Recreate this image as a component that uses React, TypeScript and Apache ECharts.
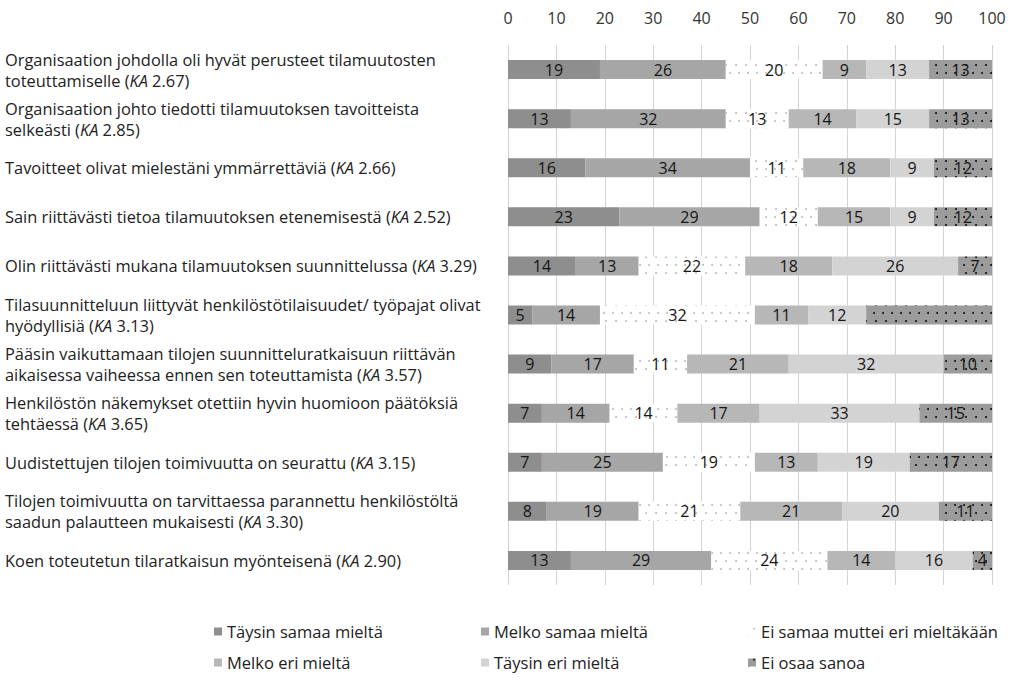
import React, { useEffect, useRef } from "react";
import * as echarts from "echarts";

const categories: string[] = [
  "Organisaation johdolla oli hyvät perusteet tilamuutosten\ntoteuttamiselle",
  "Organisaation johto tiedotti tilamuutoksen tavoitteista\nselkeästi",
  "Tavoitteet olivat mielestäni ymmärrettäviä",
  "Sain riittävästi tietoa tilamuutoksen etenemisestä",
  "Olin riittävästi mukana tilamuutoksen suunnittelussa",
  "Tilasuunnitteluun liittyvät henkilöstötilaisuudet/ työpajat olivat\nhyödyllisiä",
  "Pääsin vaikuttamaan tilojen suunnitteluratkaisuun riittävän\naikaisessa vaiheessa ennen sen toteuttamista",
  "Henkilöstön näkemykset otettiin hyvin huomioon päätöksiä\ntehtäessä",
  "Uudistettujen tilojen toimivuutta on seurattu",
  "Tilojen toimivuutta on tarvittaessa parannettu henkilöstöltä\nsaadun palautteen mukaisesti",
  "Koen toteutetun tilaratkaisun myönteisenä",
];
const kaValues: string[] = ["2.67", "2.85", "2.66", "2.52", "3.29", "3.13", "3.57", "3.65", "3.15", "3.30", "2.90"];

const seriesNames: string[] = [
  "Täysin samaa mieltä",
  "Melko samaa mieltä",
  "Ei samaa muttei eri mieltäkään",
  "Melko eri mieltä",
  "Täysin eri mieltä",
  "Ei osaa sanoa",
];

const taysinSamaa: number[] = [19, 13, 16, 23, 14, 5, 9, 7, 7, 8, 13];
const melkoSamaa: number[] = [26, 32, 34, 29, 13, 14, 17, 14, 25, 19, 29];
const eiSamaaEiEri: number[] = [20, 13, 11, 12, 22, 32, 11, 14, 19, 21, 24];
const melkoEri: number[] = [9, 14, 18, 15, 18, 11, 21, 17, 13, 21, 14];
const taysinEri: number[] = [13, 15, 9, 9, 26, 12, 32, 33, 19, 20, 16];
const eiOsaa: number[] = [13, 13, 12, 12, 7, 26, 10, 15, 17, 11, 4];
// index of a segment whose value label is not printed in the original
const hiddenLabelRow = 5;

const FONT = "'Open Sans', 'Noto Sans', sans-serif";

export default function App() {
  const ref = useRef<HTMLDivElement>(null);
  useEffect(() => {
    if (!ref.current) return;
    const chart = echarts.init(ref.current, undefined, { renderer: "svg" });

    const values = [taysinSamaa, melkoSamaa, eiSamaaEiEri, melkoEri, taysinEri, eiOsaa];
    const colors = ["#8e8e8e", "#a6a6a6", "#ffffff", "#b7b7b7", "#d3d3d3", "#9c9c9c"];
    const decals: any[] = [
      null,
      null,
      {
        symbol: "circle",
        symbolSize: 1,
        dashArrayX: [[2, 7], [0, 4.5, 2, 2.5]],
        dashArrayY: [2, 6],
        color: "#bdbdbd",
        backgroundColor: "#ffffff",
      },
      null,
      null,
      {
        symbol: "circle",
        symbolSize: 1,
        dashArrayX: [[2, 7], [0, 4.5, 2, 2.5]],
        dashArrayY: [2, 6],
        color: "#111111",
        backgroundColor: "#9c9c9c",
      },
    ];

    const series = seriesNames.map((name, si) => ({
      name,
      type: "bar",
      stack: "total",
      barWidth: 19,
      itemStyle: decals[si]
        ? { color: colors[si], decal: decals[si] }
        : { color: colors[si] },
      label: {
        show: true,
        position: "inside",
        color: "#151515",
        fontSize: 16,
        fontFamily: FONT,
      },
      data: values[si].map((v, i) =>
        si === 5 && i === hiddenLabelRow ? { value: v, label: { show: false } } : v
      ),
    }));

    const legendPos = [
      { left: 214, top: 623 },
      { left: 481, top: 623 },
      { left: 748, top: 623 },
      { left: 214, top: 654 },
      { left: 481, top: 654 },
      { left: 748, top: 654 },
    ];
    const legends = seriesNames.map((name, i) => ({
      data: [name],
      left: legendPos[i].left,
      top: legendPos[i].top,
      padding: 0,
      itemWidth: 8,
      itemHeight: 8,
      itemGap: 4,
      icon: "rect",
      selectedMode: false,
      textStyle: { fontSize: 16.5, color: "#222", fontFamily: FONT },
    }));

    chart.setOption({
      animation: false,
      backgroundColor: "#ffffff",
      grid: { left: 508, right: 32, top: 45, bottom: 102, containLabel: false },
      xAxis: {
        type: "value",
        position: "top",
        min: 0,
        max: 100,
        interval: 10,
        axisLine: { show: false },
        axisTick: { show: false },
        axisLabel: { fontSize: 16, color: "#333", fontFamily: FONT, margin: 19 },
        splitLine: { show: true, lineStyle: { color: "#d4d4d4", width: 1 } },
      },
      yAxis: {
        type: "category",
        inverse: true,
        data: categories,
        axisLine: { show: false },
        axisTick: { show: false },
        axisLabel: {
          align: "left",
          margin: 503,
          fontSize: 16.4,
          lineHeight: 21,
          color: "#222",
          fontFamily: FONT,
          formatter: (value: string, idx: number) => `${value} ({i|KA} ${kaValues[idx]})`,
          rich: {
            i: { fontStyle: "italic", fontSize: 16.4, lineHeight: 21, color: "#222", fontFamily: FONT },
          },
        },
      },
      legend: legends,
      series,
    } as any);

    return () => chart.dispose();
  }, []);

  return (
    <div
      ref={ref}
      style={{ position: "fixed", left: 0, top: 0, width: 1024, height: 687 }}
    />
  );
}
